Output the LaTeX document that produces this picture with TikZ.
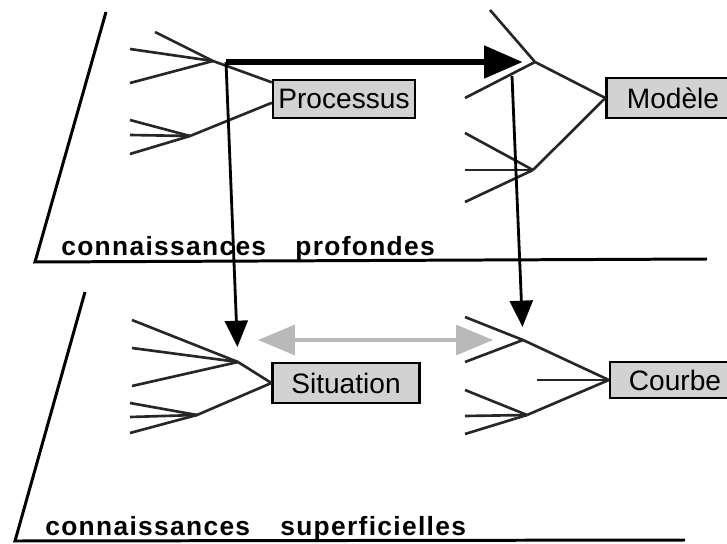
\documentclass[tikz,border=0pt]{standalone}
\usepackage{fontspec}
\setmainfont{Liberation Sans}
\newfontfamily\espace[LetterSpace=5]{Liberation Sans}
\usetikzlibrary{arrows.meta}
\tikzset{
  boite/.style={draw,line width=1.3pt,fill=gray!35,inner sep=0pt,font=\fontsize{16}{19}\selectfont},
  fil/.style={draw=black!85,line width=1.5pt},
  cadre/.style={line width=1.7pt},
  fleche/.style={line width=1.6pt,-{Triangle[length=15pt,width=13pt]}},
  grossefleche/.style={line width=3.5pt,-{Triangle[length=22pt,width=18pt]}},
  lien/.style={gray!55,line width=2pt,{Triangle[length=21pt,width=17pt]}-{Triangle[length=21pt,width=17pt]}},
  etiquette/.style={anchor=base west,inner sep=0pt,font=\espace\bfseries\fontsize{15}{18}\selectfont}
}
\begin{document}
\begin{tikzpicture}[x=0.02cm,y=-0.02cm]
    \useasboundingbox (0,0) rectangle (727,544);
    %%% PLANS
    \draw[cadre] (106,12) -- (35,262) -- (707,259);
    \draw[cadre] (85,292) -- (15,541) -- (685,540);
    \node[etiquette] at (61,255) (cprof) {connaissances};
    \node[etiquette] at (295,255) (prof) {profondes};
    \node[etiquette] at (45,535) (csup) {connaissances};
    \node[etiquette] at (280,535) (sup) {superficielles};
    %%% BOITES
    \node[boite,minimum width=2.84cm,minimum height=0.76cm] at (344,99) (processus) {Processus};
    \node[boite,minimum width=2.66cm,minimum height=0.80cm] at (673,98) (modele) {Modèle};
    \node[boite,minimum width=2.94cm,minimum height=0.80cm] at (346,383) (situation) {Situation};
    \node[boite,minimum width=2.60cm,minimum height=0.72cm] at (675,380) (courbe) {Courbe};
    %%% processus
    \coordinate (p1) at (213,61);
    \coordinate (p2) at (190,136);
    \draw[fil] (155,32) -- (p1);
    \draw[fil] (130,49) -- (p1);
    \draw[fil] (130,83) -- (p1);
    \draw[fil] (130,120) -- (p2);
    \draw[fil] (130,135) -- (p2);
    \draw[fil] (130,154) -- (p2);
    \draw[fil] (p1) -- (processus.167);
    \draw[fil] (p2) -- (processus.183);
    %%% modele
    \coordinate (m1) at (535,62);
    \coordinate (m2) at (533,170);
    \draw[fil] (490,10) -- (m1);
    \draw[fil] (465,98) -- (m1);
    \draw[fil] (465,133) -- (m2);
    \draw[fil] (465,170) -- (m2);
    \draw[fil] (465,202) -- (m2);
    \draw[fil] (m1) -- (modele.west);
    \draw[fil] (m2) -- (modele.west);
    %%% situation
    \coordinate (s1) at (238,362);
    \coordinate (s2) at (197,415);
    \draw[fil] (132,320) -- (s1);
    \draw[fil] (132,348) -- (s1);
    \draw[fil] (132,386) -- (s1);
    \draw[fil] (130,403) -- (s2);
    \draw[fil] (130,417) -- (s2);
    \draw[fil] (130,433) -- (s2);
    \draw[fil] (s1) -- (situation.west);
    \draw[fil] (s2) -- (situation.west);
    %%% courbe
    \coordinate (c1) at (523,340);
    \coordinate (c2) at (527,415);
    \coordinate (c3) at (537,380);
    \draw[fil] (465,317) -- (c1);
    \draw[fil] (465,362) -- (c1);
    \draw[fil] (465,390) -- (c2);
    \draw[fil] (465,416) -- (c2);
    \draw[fil] (465,434) -- (c2);
    \draw[fil] (c1) -- (courbe.west);
    \draw[fil] (c3) -- (courbe.west);
    \draw[fil] (c2) -- (courbe.west);
    %%% FLECHES
    \coordinate (depart) at (226,62);
    \coordinate (depart2) at (512,76);
    \draw[grossefleche,shorten >=7pt] (depart) -- (m1);
    \draw[fleche,shorten >=8.5pt] (depart) -- (s1);
    \draw[fleche,shorten >=7.4pt] (depart2) -- (c1);
    %aller-retour
    \coordinate (g1) at (258,340);
    \coordinate (g2) at (493,340);
    \draw[lien] (g1) -- (g2);
\end{tikzpicture}
\end{document}
